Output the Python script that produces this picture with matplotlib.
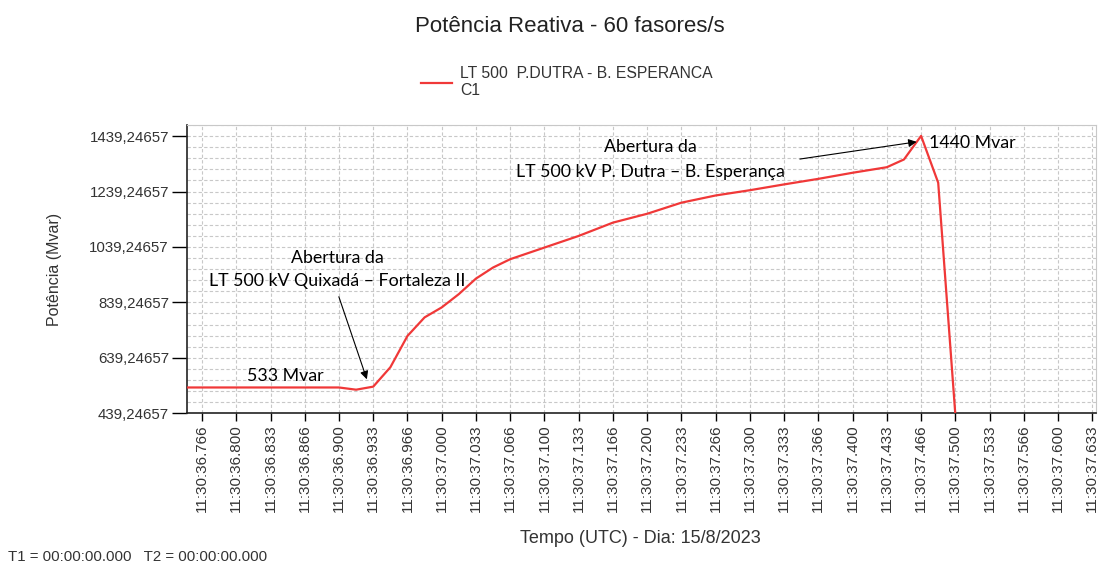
import matplotlib.pyplot as plt
from matplotlib.ticker import FixedLocator
import numpy as np

plt.rcParams['font.family'] = ['Liberation Sans', 'DejaVu Sans']

# amostras a 60 fasores/s, contadas a partir de 11:30:36.000
amostra = [45, 54, 55, 56, 57, 58, 59, 60, 61, 62, 63, 64, 66, 68, 70, 72, 74,
           76, 78, 80, 82, 84, 86, 87, 88, 89, 90]
potencia = [532, 532, 524, 535, 605, 718, 785, 821, 869, 925, 965, 995, 1037,
            1079, 1127, 1159, 1199, 1225, 1244, 1265, 1285, 1307, 1327, 1355,
            1440, 1271, 435]

serie = "LT 500  P.DUTRA - B. ESPERANCA\nC1"
y_ticks = [439.24657, 639.24657, 839.24657, 1039.24657, 1239.24657, 1439.24657]

t = 36 + np.array(amostra) / 60.0
x_ticks = np.arange(1103, 1130) / 30.0


def rotulo(s):
    ms = int(round(s * 1000, 3))
    return "11:30:%02d.%03d" % (ms // 1000, ms % 1000)


fig = plt.figure(figsize=(11.03, 5.67), dpi=100)
ax = fig.add_axes([0.1695, 0.2713, 0.8242, 0.5083])

ax.plot(t, potencia, color='#f03838', lw=1.6, label=serie, zorder=3)

ax.set_xlim(36.752, 37.637)
ax.set_ylim(439.24657, 1479.5)

ax.xaxis.set_major_locator(FixedLocator(x_ticks))
ax.set_xticklabels([rotulo(v) for v in x_ticks], rotation=90, fontsize=11,
                   color='#333333')
ax.yaxis.set_major_locator(FixedLocator(y_ticks))
ax.set_yticklabels([("%.5f" % v).replace('.', ',') for v in y_ticks],
                   fontsize=10.8, color='#333333')
ax.yaxis.set_minor_locator(FixedLocator(np.arange(439.24657, 1480, 40)))
ax.tick_params(axis='y', which='minor', length=0)
ax.tick_params(which='major', width=1, direction='out', pad=2)
ax.tick_params(axis='y', which='major', length=11)
ax.tick_params(axis='x', which='major', length=6)

ax.grid(True, which='both', axis='y', ls=(0, (3, 2)), color='#c8c8c8', lw=0.8)
ax.grid(True, which='major', axis='x', ls=(0, (3, 2)), color='#c8c8c8', lw=0.8)

for s in ['top', 'right']:
    ax.spines[s].set_color('#c8c8c8')
for s in ['left', 'bottom']:
    ax.spines[s].set_color('#222222')
    ax.spines[s].set_linewidth(1.2)

ax.set_ylabel("Potência (Mvar)", fontsize=11.5, color='#333333', labelpad=20)
fig.text(0.581, 0.051, "Tempo (UTC) - Dia: 15/8/2023", fontsize=13,
         color='#333333', ha='center', va='center')
fig.text(0.517, 0.953, "Potência Reativa - 60 fasores/s", fontsize=16,
         color='#222222', ha='center', va='center')
fig.text(0.007, 0.018, "T1 = 00:00:00.000   T2 = 00:00:00.000", fontsize=10.8,
         color='#333333', ha='left', va='center')

fig.legend(loc='center', bbox_to_anchor=(0.514, 0.855), frameon=False,
           fontsize=11.3, handlelength=2.0, handletextpad=0.5,
           labelcolor='#333333')

anot = dict(fontsize=12.8, color='black', family=['Lato', 'DejaVu Sans'],
            ha='center', va='center')
ax.annotate("", xy=(36.928, 552), xytext=(36.899, 869),
            arrowprops=dict(arrowstyle='-|>', color='black', lw=0.8,
                            mutation_scale=12))
ax.text(36.898, 1000, "Abertura da", **anot)
ax.text(36.898, 915, "LT 500 kV Quixadá – Fortaleza II", **anot)
ax.text(36.848, 574, "533 Mvar", **anot)

ax.annotate("", xy=(37.465, 1420), xytext=(37.346, 1355),
            arrowprops=dict(arrowstyle='-|>', color='black', lw=0.8,
                            mutation_scale=12))
ax.text(37.203, 1400, "Abertura da", **anot)
ax.text(37.203, 1310, "LT 500 kV P. Dutra – B. Esperança", **anot)
ax.text(37.474, 1415, "1440 Mvar", fontsize=12.8, color='black',
        family=['Lato', 'DejaVu Sans'], ha='left', va='center')

fig.savefig("out.png", dpi=100)
